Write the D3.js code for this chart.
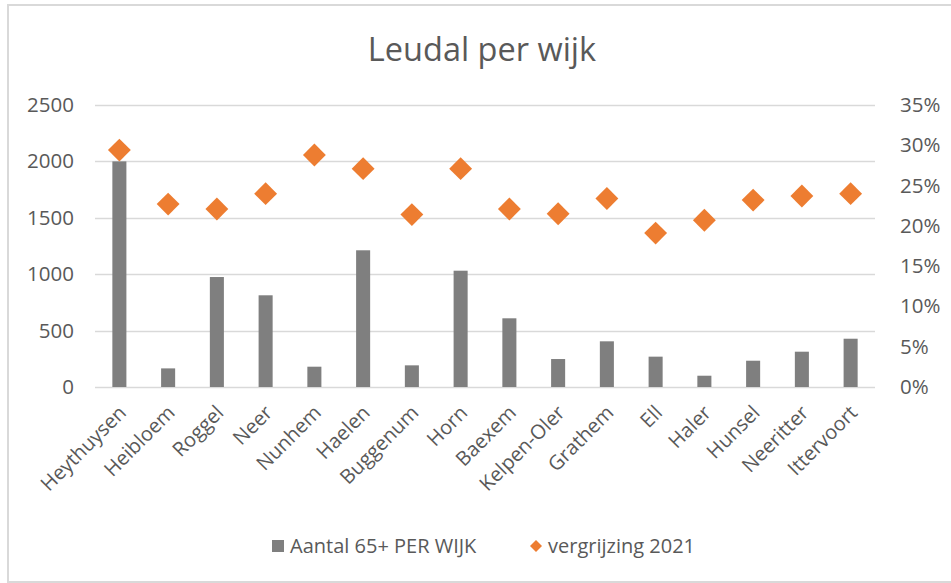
<!DOCTYPE html>
<html>
<head>
<meta charset="utf-8">
<script src="https://cdn.jsdelivr.net/npm/d3@7/dist/d3.min.js"></script>
<style>
  html, body { margin: 0; padding: 0; background: #fff; }
  svg { display: block; }
  text { font-family: "Open Sans", sans-serif; fill: #595959; }
</style>
</head>
<body>
<svg id="chart" width="951" height="583"></svg>
<script>
const categories = ["Heythuysen","Heibloem","Roggel","Neer","Nunhem","Haelen","Buggenum","Horn","Baexem","Kelpen-Oler","Grathem","Ell","Haler","Hunsel","Neeritter","Ittervoort"];
const aantal65 = [2000,165,975,813,180,1212,192,1031,609,248,405,269,100,233,313,428];
const vergrijzing = [0.294,0.227,0.221,0.240,0.288,0.271,0.214,0.271,0.221,0.215,0.234,0.191,0.207,0.232,0.237,0.240];
const leftTicks = [0,500,1000,1500,2000,2500];
const rightTicks = [0,0.05,0.10,0.15,0.20,0.25,0.30,0.35];
const seriesNames = ["Aantal 65+ PER WIJK","vergrijzing 2021"];
const title = "Leudal per wijk";

const svg = d3.select("#chart");
const plot = {left: 95, right: 875, top: 105, bottom: 387};

// chart border
svg.append("rect").attr("x", 8).attr("y", 5).attr("width", 960).attr("height", 577)
  .attr("fill", "#fff").attr("stroke", "#d9d9d9").attr("stroke-width", 2);

const x = d3.scaleBand().domain(categories).range([plot.left, plot.right])
  .paddingInner(0.712).paddingOuter(0.356);
const yL = d3.scaleLinear().domain([0, 2500]).range([plot.bottom, plot.top]);
const yR = d3.scaleLinear().domain([0, 0.35]).range([plot.bottom, plot.top]);

// gridlines
svg.append("g").selectAll("line").data(leftTicks).join("line")
  .attr("x1", plot.left).attr("x2", plot.right)
  .attr("y1", d => Math.round(yL(d)) + 0.5).attr("y2", d => Math.round(yL(d)) + 0.5)
  .attr("stroke", "#d9d9d9").attr("stroke-width", 1.5);

// left axis
const axL = svg.append("g").attr("transform", `translate(${plot.left},0)`)
  .call(d3.axisLeft(yL).tickValues(leftTicks).tickSize(0).tickPadding(21).tickFormat(d3.format("d")));
axL.select(".domain").remove();
axL.selectAll("text").style("font-size", "20.5px").attr("fill", "#595959");

// right axis
const axR = svg.append("g").attr("transform", `translate(${plot.right},0)`)
  .call(d3.axisRight(yR).tickValues(rightTicks).tickSize(0).tickPadding(25).tickFormat(d3.format(".0%")));
axR.select(".domain").remove();
axR.selectAll("text").style("font-size", "20.5px").attr("fill", "#595959");

// bars
svg.append("g").selectAll("rect").data(categories).join("rect")
  .attr("x", d => x(d)).attr("width", x.bandwidth())
  .attr("y", (d, i) => yL(aantal65[i])).attr("height", (d, i) => yL(0) - yL(aantal65[i]))
  .attr("fill", "#7f7f7f");

// diamonds
const diamond = d3.symbol().type(d3.symbolSquare).size(262);
svg.append("g").selectAll("path").data(categories).join("path")
  .attr("d", diamond)
  .attr("transform", (d, i) => `translate(${x(d) + x.bandwidth() / 2},${yR(vergrijzing[i])}) rotate(45)`)
  .attr("fill", "#ed7d31");

// category labels
const axB = svg.append("g").attr("transform", `translate(0,${plot.bottom})`)
  .call(d3.axisBottom(x).tickSize(0).tickPadding(0));
axB.select(".domain").remove();
axB.selectAll("text")
  .style("font-size", "20px").attr("fill", "#595959")
  .attr("text-anchor", "end").attr("dy", "0")
  .attr("transform", "translate(8,27) rotate(-45)");

// title
svg.append("text").attr("x", 482).attr("y", 61).attr("text-anchor", "middle")
  .style("font-size", "32.5px").text(title);

// legend
const lg = svg.append("g");
lg.append("rect").attr("x", 272).attr("y", 540).attr("width", 12).attr("height", 12).attr("fill", "#7f7f7f");
lg.append("text").attr("x", 290).attr("y", 553).style("font-size", "20px").text(seriesNames[0]);
lg.append("path").attr("d", d3.symbol().type(d3.symbolSquare).size(72))
  .attr("transform", "translate(536,546) rotate(45)").attr("fill", "#ed7d31");
lg.append("text").attr("x", 548).attr("y", 553).style("font-size", "20px").text(seriesNames[1]);
</script>
</body>
</html>
